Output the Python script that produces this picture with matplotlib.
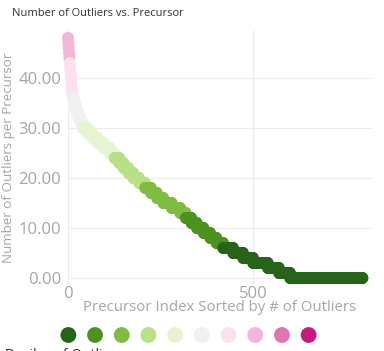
import matplotlib
matplotlib.use('Agg')
import numpy as np
from matplotlib import pyplot as plt

plt.rcParams['font.family'] = ['Open Sans', 'DejaVu Sans']

# outlier count per precursor -> how many precursors have that count
outlier_values = [48, 47, 46, 45, 44, 43, 42, 41, 40, 39, 38, 37, 36, 35, 34, 33, 32,
                  31, 30, 29, 28, 27, 26, 25, 24, 23, 22, 21, 20, 19, 18, 17, 16, 15,
                  14, 13, 12, 11, 10, 9, 8, 7, 6, 5, 4, 3, 2, 1, 0]
precursor_counts = [1, 1, 1, 1, 1, 1, 1, 1, 1, 1, 1, 2, 3, 4, 4, 5, 6,
                    6, 12, 13, 15, 16, 17, 12, 13, 12, 13, 13, 16, 16, 16, 16, 17, 23,
                    23, 15, 15, 15, 18, 18, 17, 18, 27, 27, 27, 40, 30, 30, 196]

# colour bands (lower edge of each band), from the picture
band_edges = [44, 37, 31, 25, 19, 13, 7, -1]
band_colors = ['#f1b6da', '#fde0ef', '#f0f0f0', '#e6f5d0', '#b8e186', '#7fbc41',
               '#4d9221', '#276419']

legend_colors = ['#276419', '#4d9221', '#7fbc41', '#b8e186', '#e6f5d0',
                 '#f0f0f0', '#fde0ef', '#f1b6da', '#de77ae', '#c51b7d']

y_ticks = [0, 10, 20, 30, 40]
x_ticks = [0, 500]

y = np.repeat(outlier_values, precursor_counts)
x = np.arange(len(y))


def band_color(v):
    for edge, col in zip(band_edges, band_colors):
        if v >= edge:
            return col
    return band_colors[-1]


colors = [band_color(v) for v in y]

W, H = 384, 351
fig = plt.figure(figsize=(W / 100, H / 100), dpi=100)
ax = fig.add_axes([68 / W, 66 / H, (372 - 68) / W, (321 - 66) / H])

ax.scatter(x, y, s=75, c=colors, edgecolors='none', clip_on=False, zorder=3)

ax.set_xlim(0, 822)
ax.set_ylim(-1.4, 49.6)
ax.set_xticks(x_ticks)
ax.set_xticklabels([str(t) for t in x_ticks])
ax.set_yticks(y_ticks)
ax.set_yticklabels([f'{t:.2f}' for t in y_ticks])
ax.grid(True, color='#ececec', linewidth=0.8)
ax.set_axisbelow(True)
for s in ax.spines.values():
    s.set_visible(False)
ax.tick_params(length=0, colors='#a6a6a6', labelsize=12, pad=5)
ax.tick_params(axis='x', pad=0.5)
ax.set_xlabel('Precursor Index Sorted by # of Outliers', color='#a6a6a6', fontsize=10.8, labelpad=-1)
ax.set_ylabel('Number of Outliers per Precursor', color='#a6a6a6', fontsize=9.6, labelpad=2)

fig.text(12 / W, 1 - 14 / H, 'Number of Outliers vs. Precursor', color='#333333',
         fontsize=8, va='center', ha='left')

# legend row
lax = fig.add_axes([55 / W, 7 / H, 267 / W, 18 / H])
lax.scatter(np.arange(len(legend_colors)), np.zeros(len(legend_colors)), s=130,
            c=legend_colors, edgecolors='none')
lax.set_xlim(-0.5, len(legend_colors) - 0.5)
lax.set_ylim(-1, 1)
lax.axis('off')

fig.text(5 / W, 3 / H, 'Deciles of Outliers', color='#333333', fontsize=10,
         va='top', ha='left')

fig.savefig('out.png', dpi=100)
